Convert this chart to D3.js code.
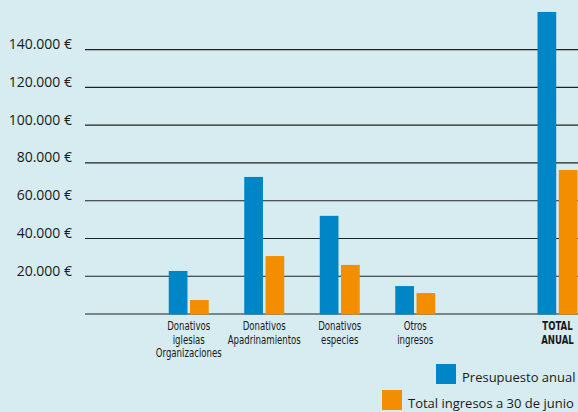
<!DOCTYPE html>
<html>
<head>
<meta charset="utf-8">
<script src="https://cdn.jsdelivr.net/npm/d3@7"></script>
<style>
  html, body { margin: 0; padding: 0; background: #d6ecf0; }
  svg { display: block; }
</style>
</head>
<body>
<svg width="578" height="412"></svg>
<script>
const categories = ['iglesias', 'apadrinamientos', 'especies', 'otros'];
const categoryLabels = [
    ['Donativos', 'iglesias', 'Organizaciones'],
    ['Donativos', 'Apadrinamientos'],
    ['Donativos', 'especies'],
    ['Otros', 'ingresos']
];
const presupuesto = [22800, 72600, 52000, 14800];
const ingresos = [7400, 30700, 26000, 11100];
const totalLabel = ['TOTAL', 'ANUAL'];
const totalPresupuesto = [160000];
const totalIngresos = [76300];
const yTicks = [0, 20000, 40000, 60000, 80000, 100000, 120000, 140000];
const seriesNames = ['Presupuesto anual', 'Total ingresos a 30 de junio'];
const colors = ['#0085c7', '#f28e00'];

const svg = d3.select('svg');

const y = d3.scaleLinear()
    .domain([0, 140000])
    .range([314, 49.7]);

const x = d3.scaleBand()
    .domain(categories)
    .range([151, 453]);

const xTotal = d3.scaleBand()
    .domain(['total'])
    .range([519.75, 595.25]);

const inner = d3.scaleBand()
    .domain([0, 1])
    .range([-20, 20])
    .paddingInner(0.12);

// gridlines
svg.append('g')
    .selectAll('line')
    .data(yTicks)
    .join('line')
    .attr('x1', 85)
    .attr('x2', 578)
    .attr('y1', d => y(d))
    .attr('y2', d => y(d))
    .style('stroke', '#1e2222')
    .style('stroke-width', 1.2);

// tick labels
svg.append('g')
    .selectAll('text')
    .data(yTicks.filter(d => d > 0))
    .join('text')
    .text(d => d3.format(',')(d).replace(/,/g, '.') + ' €')
    .attr('x', 72)
    .attr('y', d => y(d) - 0.5)
    .attr('text-anchor', 'end')
    .style('font-family', '\'Open Sans\', sans-serif')
    .style('font-size', '14px')
    .style('fill', '#1a1a1a');

// bars
const groups = [
    { scale: x, keys: categories, values: [presupuesto, ingresos] },
    { scale: xTotal, keys: ['total'], values: [totalPresupuesto, totalIngresos] }
];

groups.forEach(g => {
    g.values.forEach((vals, s) => {
        svg.append('g')
            .selectAll('rect')
            .data(g.keys.map((k, i) => ({ k, v: vals[i] })))
            .join('rect')
            .attr('x', d => g.scale(d.k) + g.scale.bandwidth() / 2 + inner(s))
            .attr('width', inner.bandwidth())
            .attr('y', d => y(d.v))
            .attr('height', d => y(0) - y(d.v) + 0.5)
            .style('fill', colors[s]);
    });
});

// category labels (condensed look by squeezing horizontally)
const labelFont = '\'Liberation Sans Narrow\', \'DejaVu Sans Condensed\', sans-serif';
function addLabel(cx, lines, bold) {
    svg.append('g')
        .attr('transform', `translate(${cx},0) scale(0.83,1)`)
        .append('text')
        .attr('text-anchor', 'middle')
        .style('font-family', labelFont)
        .style('font-size', '11.5px')
        .style('font-weight', bold ? 'bold' : 'normal')
        .style('fill', '#1a1a1a')
        .selectAll('tspan')
        .data(lines)
        .join('tspan')
        .attr('x', 0)
        .attr('y', (d, j) => 330.5 + j * 13.5)
        .text(d => d);
}
categories.forEach((c, i) => addLabel(x(c) + x.bandwidth() / 2, categoryLabels[i], false));
addLabel(xTotal('total') + xTotal.bandwidth() / 2, totalLabel, true);

// legend
const legendPos = [[436, 364], [382, 390]];
seriesNames.forEach((name, s) => {
    const [lx, ly] = legendPos[s];
    svg.append('rect')
        .attr('x', lx)
        .attr('y', ly)
        .attr('width', 20)
        .attr('height', 20)
        .style('fill', colors[s]);
    svg.append('text')
        .text(name)
        .attr('x', lx + 26)
        .attr('y', ly + 18)
        .style('font-family', '\'Open Sans\', sans-serif')
        .style('font-size', '13px')
        .style('fill', '#1a1a1a');
});
</script>
</body>
</html>
